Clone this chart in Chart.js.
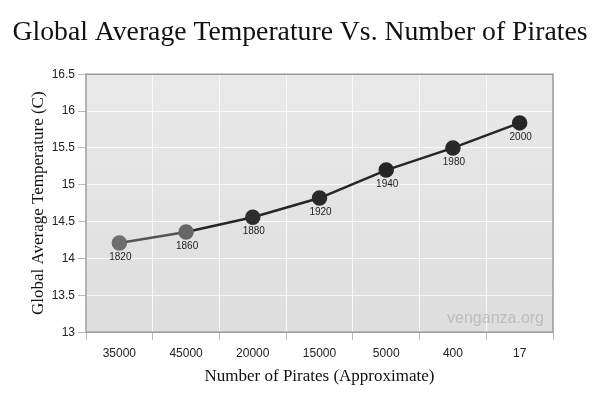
<!DOCTYPE html>
<html>
<head>
<meta charset="utf-8">
<script src="https://cdn.jsdelivr.net/npm/chart.js@4/dist/chart.umd.min.js"></script>
<style>
  html, body { margin: 0; padding: 0; background: #fff; }
  #wrap { width: 600px; height: 400px; }
</style>
</head>
<body>
<div id="wrap"><canvas id="myChart" width="600" height="400"></canvas></div>
<script>
var pirates = ["35000", "45000", "20000", "15000", "5000", "400", "17"]
var years = ["1820", "1860", "1880", "1920", "1940", "1980", "2000"]
var temps = [14.21, 14.36, 14.56, 14.82, 15.2, 15.5, 15.84]

var pointColors = ["#6e6e6e", "#666666", "#2e2e2e", "#2a2a2a", "#262626", "#2a2a2a", "#262626"]
var serif = '"Liberation Serif", "Times New Roman", serif'
var sans = '"Liberation Sans", Arial, sans-serif'

// gray gradient behind the plot + border
var plotBg = {
    id: 'plotBg',
    beforeDraw: function(chart){
        var a = chart.chartArea, c = chart.ctx
        var g = c.createLinearGradient(0, a.top, 0, a.bottom)
        g.addColorStop(0, '#e9e9e9')
        g.addColorStop(1, '#dedede')
        c.save()
        c.fillStyle = g
        c.fillRect(a.left, a.top, a.right - a.left, a.bottom - a.top)
        c.restore()
    },
    afterDatasetsDraw: function(chart){
        var a = chart.chartArea, c = chart.ctx
        c.save()
        c.strokeStyle = '#9a9a9a'
        c.lineWidth = 1.5
        c.strokeRect(a.left, a.top, a.right - a.left, a.bottom - a.top)
        c.font = '16px ' + sans
        c.fillStyle = 'rgba(150,150,150,0.45)'
        c.textAlign = 'right'
        c.fillText('venganza.org', a.right - 9, a.bottom - 9)
        c.restore()
    }
}

// year labels under each point
var yearLabels = {
    id: 'yearLabels',
    afterDatasetsDraw: function(chart){
        var c = chart.ctx
        var meta = chart.getDatasetMeta(0)
        c.save()
        c.font = '10px ' + sans
        c.fillStyle = '#222'
        c.textAlign = 'center'
        c.textBaseline = 'top'
        meta.data.forEach(function(pt, i){
            c.fillText(years[i], pt.x + 1, pt.y + 9)
        })
        c.restore()
    }
}

var ctx = document.getElementById('myChart')
var chart = new Chart(ctx, {
    type: 'line',
    data: {
        labels: pirates,
        datasets: [{
            data: temps,
            borderColor: '#2a2a2a',
            borderWidth: 2.5,
            tension: 0,
            pointRadius: 6.5,
            pointHoverRadius: 6.5,
            pointBackgroundColor: pointColors,
            pointBorderColor: pointColors,
            segment: {
                borderColor: function(s){ return s.p0DataIndex < 1 ? '#555' : '#262626' }
            }
        }]
    },
    options: {
        responsive: false,
        animation: false,
        layout: { padding: { left: 0, right: 0, top: 0, bottom: 9 } },
        plugins: {
            legend: { display: false },
            tooltip: { enabled: false },
            title: {
                display: true,
                text: 'Global Average Temperature Vs. Number of Pirates',
                color: '#111',
                font: { family: serif, size: 27.7, weight: 'normal' },
                padding: { top: 16, bottom: 25 }
            }
        },
        scales: {
            x: {
                offset: true,
                grid: { offset: true, color: 'rgba(255,255,255,0.8)', drawTicks: true, tickLength: 8, tickColor: '#bbb' },
                border: { display: false },
                ticks: { color: '#222', font: { family: sans, size: 12 }, padding: 6 },
                title: {
                    display: true,
                    text: 'Number of Pirates (Approximate)',
                    color: '#111',
                    font: { family: serif, size: 17 },
                    padding: { top: 0 }
                }
            },
            y: {
                min: 13,
                max: 16.5,
                afterFit: function(s){ s.width = 86 },
                ticks: {
                    stepSize: 0.5, color: '#222', font: { family: sans, size: 12 }, padding: 3,
                    callback: function(v){ return String(v) }
                },
                grid: { color: 'rgba(255,255,255,0.8)', tickLength: 8, tickColor: '#bbb' },
                border: { display: false },
                title: {
                    display: true,
                    text: 'Global Average Temperature (C)',
                    color: '#111',
                    font: { family: serif, size: 17 },
                    padding: { top: 28, bottom: 4 }
                }
            },
            // empty right-hand axis, only keeps the white margin on the right
            yRight: {
                position: 'right',
                afterFit: function(s){ s.width = 47 },
                grid: { display: false },
                ticks: { display: false },
                border: { display: false }
            }
        }
    },
    plugins: [plotBg, yearLabels]
})
</script>
</body>
</html>
